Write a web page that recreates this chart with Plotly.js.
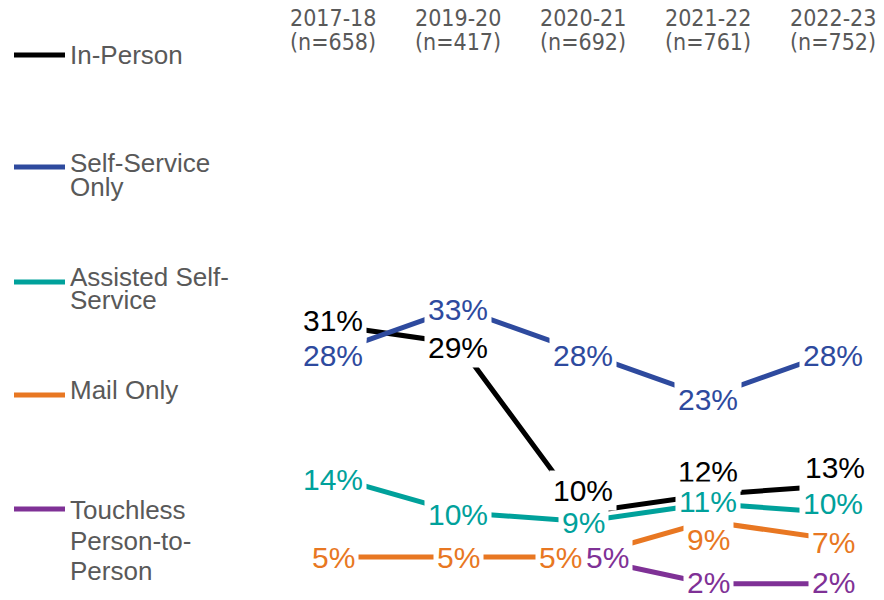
<!DOCTYPE html>
<html>
<head>
<meta charset="utf-8">
<script src="https://cdn.plot.ly/plotly-3.0.1.min.js"></script>
<style>html,body{margin:0;padding:0;background:#fff;}#chart{width:884px;height:600px;}</style>
</head>
<body>
<div id="chart"></div>
<script>
// ---- data ----
const categories = ['2017-18', '2019-20', '2020-21', '2021-22', '2022-23'];
const sampleSizes = ['(n=658)', '(n=417)', '(n=692)', '(n=761)', '(n=752)'];
const seriesNames = ['In-Person', 'Self-Service Only', 'Assisted Self-Service', 'Mail Only', 'Touchless Person-to-Person'];
const legendLabelLines = [['In-Person'], ['Self-Service', 'Only'], ['Assisted Self-', 'Service'], ['Mail Only'], ['Touchless', 'Person-to-', 'Person']];
const inPerson = [31, 29, 10, 12, 13];
const selfServiceOnly = [28, 33, 28, 23, 28];
const assistedSelfService = [14, 10, 9, 11, 10];
const mailOnly = [5, 5, 5, 9, 7];
const touchlessPersonToPerson = [null, null, 5, 2, 2];

// ---- styles ----
const seriesValues = [inPerson, selfServiceOnly, assistedSelfService, mailOnly, touchlessPersonToPerson];
const colors = ['#000000', '#2E4A9E', '#00A19B', '#E87722', '#7F3196'];
const labelYShift = [
  [5, -4, 22, 23, 18],
  [-3, -2, -3, -3, -3],
  [-3, -2, -1, 2, 9],
  [0, 0, 0, -18, -3],
  [0, 0, 0, 1, 1]
];
const labelXShift = [
  [0, 0, 0, 0, 2],
  [0, 0, 0, 0, 0],
  [0, 0, 0, 0, 0],
  [0, 0, -23, 0, 0],
  [0, 0, 24, 0, 0]
];
const legendLineY = [55, 167, 282, 395, 509];
const legendTextY = [[55], [163, 187], [277, 300], [390], [510, 541, 571]];

const W = 884, H = 600, L = 270, R = 0, T = 70, B = 0;
const pw = W - L - R, ph = H - T - B;
const pxX = p => (p - L) / pw;
const pxY = p => (H - B - p) / ph;

const traces = seriesValues.map((vals, i) => ({
  type: 'scatter', mode: 'lines', x: categories, y: vals, name: seriesNames[i],
  line: {color: colors[i], width: 5}, connectgaps: false, showlegend: false, hoverinfo: 'skip'
}));

const annotations = [];
// data labels
seriesValues.forEach((vals, i) => {
  vals.forEach((v, j) => {
    if (v === null) return;
    annotations.push({
      x: categories[j], y: v, xref: 'x', yref: 'y', text: v + '%', showarrow: false,
      bgcolor: '#ffffff', borderpad: 3, xshift: labelXShift[i][j], yshift: labelYShift[i][j],
      font: {family: 'Liberation Sans, Arial, sans-serif', size: 30, color: colors[i]}
    });
  });
});
// headers
const headFont = {family: 'Liberation Sans Narrow, Arial Narrow, DejaVu Sans Condensed, sans-serif', size: 23, color: '#595959'};
categories.forEach((c, j) => {
  annotations.push({x: c, y: pxY(18), xref: 'x', yref: 'paper', text: c, showarrow: false, yanchor: 'middle', font: headFont});
  annotations.push({x: c, y: pxY(42), xref: 'x', yref: 'paper', text: sampleSizes[j], showarrow: false, yanchor: 'middle', font: headFont});
});
// legend
const shapes = [];
const legFont = {family: 'Liberation Sans, Arial, sans-serif', size: 26, color: '#595959'};
legendLabelLines.forEach((lines, i) => {
  shapes.push({type: 'line', xref: 'paper', yref: 'paper', x0: pxX(14), x1: pxX(65), y0: pxY(legendLineY[i]), y1: pxY(legendLineY[i]),
    line: {color: colors[i], width: 5}});
  lines.forEach((t, k) => {
    annotations.push({x: pxX(68), y: pxY(legendTextY[i][k]), xref: 'paper', yref: 'paper', text: t, showarrow: false,
      xanchor: 'left', yanchor: 'middle', font: legFont});
  });
});

const yPerPct = 8.9, zeroPx = 601.5;
const yMin = -(H - B - zeroPx) / yPerPct;
const yMax = yMin + ph / yPerPct;
const xStart = -(333 - L) / 125;

const layout = {
  width: W, height: H, margin: {l: L, r: R, t: T, b: B, pad: 0},
  paper_bgcolor: '#ffffff', plot_bgcolor: '#ffffff', showlegend: false,
  xaxis: {type: 'category', range: [xStart, xStart + pw / 125], showgrid: false, zeroline: false, showline: false, showticklabels: false, ticks: ''},
  yaxis: {range: [yMin, yMax], showgrid: false, zeroline: false, showline: false, showticklabels: false, ticks: ''},
  annotations: annotations, shapes: shapes
};

Plotly.newPlot('chart', traces, layout, {staticPlot: true, displayModeBar: false});
</script>
</body>
</html>
